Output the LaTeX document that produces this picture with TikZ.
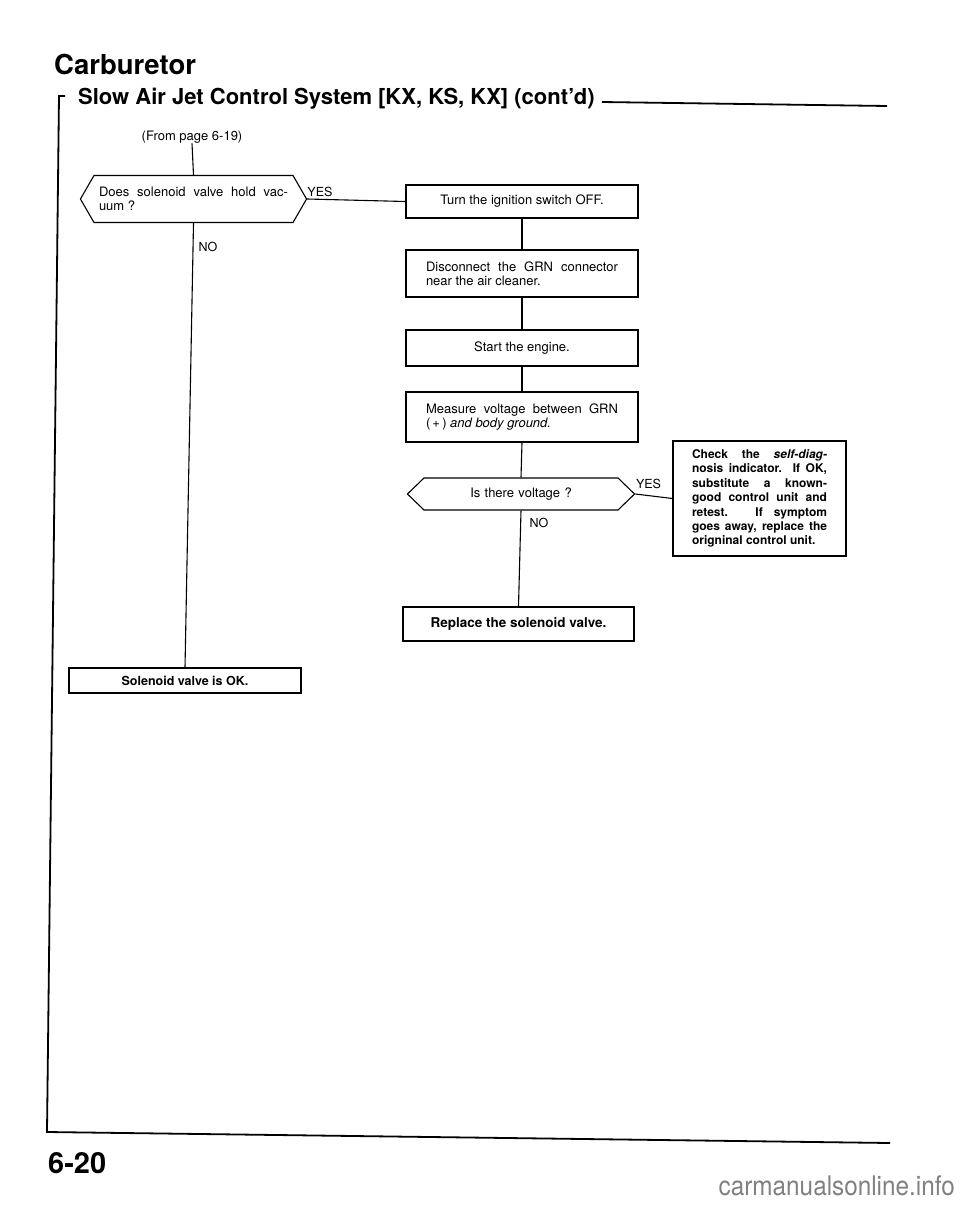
\documentclass[tikz,border=0pt]{standalone}
\usepackage{fontspec}
\setmainfont{TeX Gyre Heros}
\usetikzlibrary{shapes.symbols}
\newcommand{\boxfont}{\fontsize{13}{13.5}\selectfont}
\tikzset{
  box/.style={rectangle,draw,line width=1.1pt,minimum width=232pt,inner sep=0pt,align=center,font=\boxfont},
  decision/.style={signal,signal to=west and east,draw,line width=1.1pt,inner xsep=5pt,inner ysep=0pt,font=\boxfont},
  answer/.style={inner sep=0pt,font=\fontsize{12.5}{13}\selectfont},
  heavy/.style={font=\bfseries\fontsize{12.5}{13}\selectfont},
  line/.style={line width=1.1pt},
  frame/.style={line width=1.8pt}
}

\begin{document}
\begin{tikzpicture}[x=1pt,y=-1pt]
\useasboundingbox (0,0) rectangle (960,1205);
% heading
\node[anchor=base west,inner sep=0pt,font=\bfseries\fontsize{27.5}{30}\selectfont] (title) at (54,74) {Carburetor};
\node[anchor=base west,inner sep=0pt,font=\bfseries\fontsize{22}{24}\selectfont] (subtitle) at (78,104) {Slow Air Jet Control System [KX, KS, KX] (cont'd)};
\coordinate (ruleend) at (887,106);
\draw[frame] ([xshift=7pt,yshift=2pt]subtitle.base east) -- (ruleend);
\coordinate (ftop) at (59,96);
\coordinate (fcorner) at (47,1132);
\coordinate (fend) at (890,1143);
\draw[frame] ([xshift=6pt]ftop) -- (ftop) -- (fcorner) -- (fend);

% flow chart
\node[answer,font=\fontsize{13}{14}\selectfont] (from) at (192,137) {(From page 6-19)};
\node[decision,text width=189pt,align=justify,minimum height=47pt,signal pointer angle=120] (q1) at (193.5,199)
  {\makebox[\hsize][s]{Does solenoid valve hold vac-}\\uum ?};
\node[box,minimum height=33pt] (off) at (522,201.5) {Turn the ignition switch OFF.};
\node[box,minimum height=47pt,text width=192pt,align=justify] (grn) at (522,273.5)
  {\makebox[\hsize][s]{Disconnect the GRN connector}\\near the air cleaner.};
\node[box,minimum height=36pt] (start) at (522,348) {Start the engine.};
\node[box,minimum height=50pt,text width=192pt,align=justify] (meas) at (522,417)
  {\makebox[\hsize][s]{Measure voltage between GRN}\\(\,+\,) \textit{and body ground.}};
\node[decision,text width=184pt,align=center,minimum height=32pt,signal pointer angle=88] (q2) at (521,494) {Is there voltage ?};
\node[box,heavy,minimum width=173pt,minimum height=115pt,text width=135pt,align=justify,
  font=\bfseries\fontsize{12}{14.4}\selectfont] (chk) at (759.5,498.5)
  {\makebox[\hsize][s]{Check the \textit{self-diag-}}\\
   \makebox[\hsize][s]{nosis indicator. If OK,}\\
   \makebox[\hsize][s]{substitute a known-}\\
   \makebox[\hsize][s]{good control unit and}\\
   \makebox[\hsize][s]{retest. If symptom}\\
   \makebox[\hsize][s]{goes away, replace the}\\
   origninal control unit.};
\node[box,heavy,minimum width=231pt,minimum height=34pt,font=\bfseries\fontsize{13.5}{14}\selectfont] (rep) at (518.5,624) {Replace the solenoid valve.};
\node[box,heavy,minimum height=25pt] (ok) at (185,680.5) {Solenoid valve is OK.};

\node[answer] (yes1) at (320,192) {YES};
\node[answer] (no1) at (208,247) {NO};
\node[answer] (yes2) at (648.5,484) {YES};
\node[answer] (no2) at (539,523) {NO};

\draw[line] (from.south) -- (q1.north);
\draw[line] (q1.east) -- (off.west);
\draw[line] (q1.south) -- (ok.north);
\draw[line] (off) -- (grn);
\draw[line] (grn) -- (start);
\draw[line] (start) -- (meas);
\draw[line] (meas.south) -- (q2.north);
\draw[line] (q2.east) -- (chk.west);
\draw[line] (q2.south) -- (rep.north);

% page number and mark
\node[anchor=base west,inner sep=0pt,font=\bfseries\fontsize{29}{30}\selectfont] (pagenum) at (48,1173) {6-20};
\node[anchor=base east,inner sep=0pt,text=gray,xscale=0.9,font=\fontsize{27}{28}\selectfont] (mark) at (955,1195) {carmanualsonline.info};
\end{tikzpicture}
\end{document}
